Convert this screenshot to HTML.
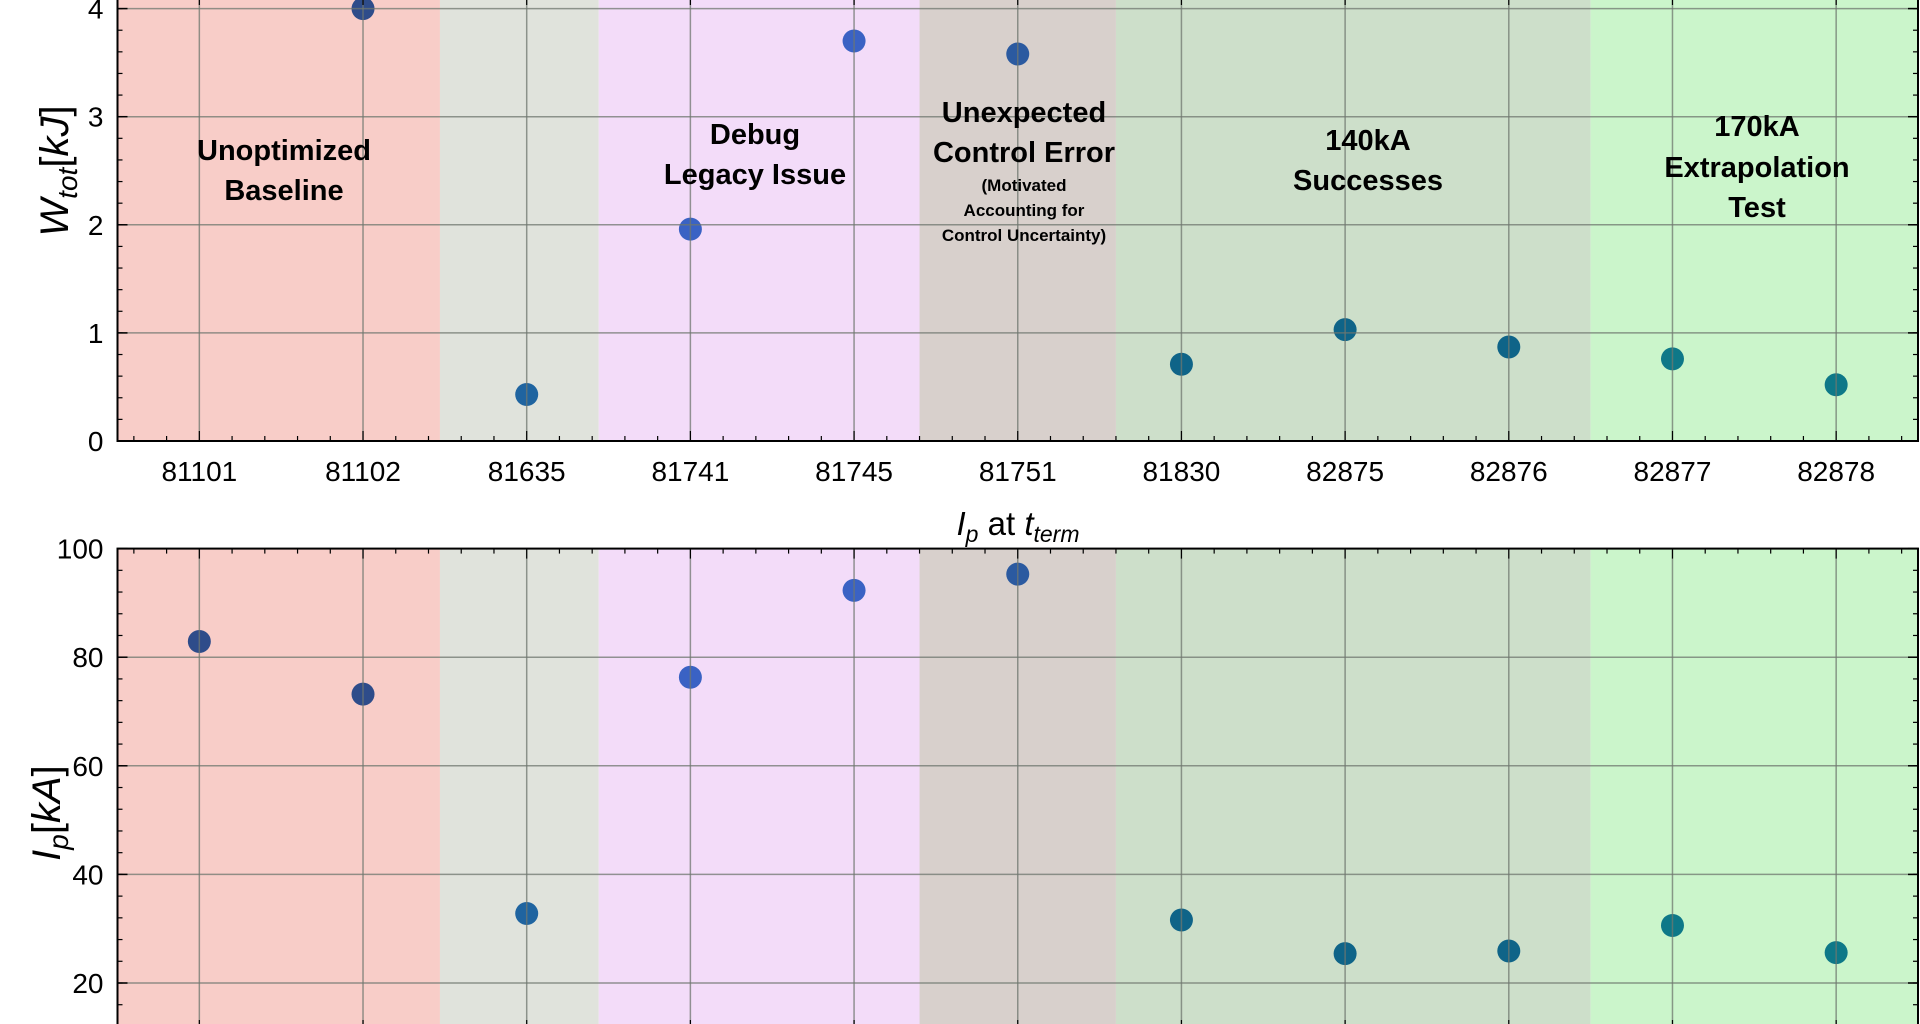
<!DOCTYPE html>
<html><head><meta charset="utf-8"><style>
html,body{margin:0;padding:0;background:#fff;}
svg{display:block;font-family:"Liberation Sans",Arial,sans-serif;}
</style></head><body>
<svg id="chart" width="1920" height="1024" viewBox="0 0 1920 1024" xmlns="http://www.w3.org/2000/svg"></svg>
<script>
const categories = ["81101","81102","81635","81741","81745","81751","81830","82875","82876","82877","82878"];
const wtotValues = [null,4.0,0.43,1.96,3.70,3.58,0.71,1.03,0.87,0.76,0.52];
const ipValues = [82.9,73.2,32.8,76.3,92.3,95.3,31.6,25.4,25.9,30.6,25.6];
const pointColors = ["#2e4c8a","#2e4c8a","#1f64a0","#3a62c4","#3a62c4","#2b5aa0","#0f6488","#0f6488","#0f6488","#0e7888","#0e7888"];
const regionStarts = [-0.5,1.47,2.44,4.4,5.6,8.5];
const regionEnds = [1.47,2.44,4.4,5.6,8.5,10.5];
const regionColors = ["#f8cdc8","#e0e3dc","#f3dcf9","#d8d0cc","#cddfca","#cbf5cb"];
const topTicks = [0,1,2,3,4];
const botTicks = [20,40,60,80,100];

const NS="http://www.w3.org/2000/svg";
const svg=document.getElementById('chart');
function mk(tag,attrs,parent){const e=document.createElementNS(NS,tag);for(const k in attrs)e.setAttribute(k,attrs[k]);(parent||svg).appendChild(e);return e;}
const L=117.5,R=1918;
const xs=i=>L+(i+0.5)*(R-L)/11;
const yTop=v=>441-v*108.1;
const yBot=v=>548.6+(100-v)*5.43;

function panel(name,ys,yTopPx,yBotPx,ticks,minorStep,values){
  const g=mk('g',{});
  
  
  regionStarts.forEach((s,i)=>{
    const r=mk('rect',{x:xs(s),y:yTopPx,width:xs(regionEnds[i])-xs(s),height:yBotPx-yTopPx,fill:regionColors[i]},g);
    
    
  });
  values.forEach((v,i)=>{
    if(v===null)return;
    const c=mk('ellipse',{cx:xs(i),cy:ys(v),rx:11.5,ry:11.5,fill:pointColors[i]},g);
    
    
  });
  categories.forEach((c,i)=>{
    const l=mk('line',{x1:xs(i),x2:xs(i),y1:yTopPx,y2:yBotPx,stroke:'#6f776f','stroke-width':1.5,'stroke-opacity':0.75},g);
    
    
  });
  ticks.forEach(t=>{
    const y=ys(t); if(y<yTopPx-1||y>yBotPx+1)return;
    const l=mk('line',{x1:L,x2:R,y1:y,y2:y,stroke:'#6f776f','stroke-width':1.5,'stroke-opacity':0.75},g);
    
    
    const tx=mk('text',{x:L-14,y:y+10,'text-anchor':'end','font-size':28,fill:'#000'},g);
    tx.textContent=t;
    
    
    mk('line',{x1:L,x2:L+10,y1:y,y2:y,stroke:'#000','stroke-width':1.5},g);
    mk('line',{x1:R,x2:R-10,y1:y,y2:y,stroke:'#000','stroke-width':1.5},g);
  });
  for(let v=ticks[0]-minorStep*10;v<=ticks[ticks.length-1]+minorStep*2;v+=minorStep){
    const y=ys(v); if(y<yTopPx||y>yBotPx)continue;
    mk('line',{x1:L,x2:L+5,y1:y,y2:y,stroke:'#000','stroke-width':1.2},g);
    mk('line',{x1:R,x2:R-5,y1:y,y2:y,stroke:'#000','stroke-width':1.2},g);
  }
  const step=(R-L)/11/5;
  for(let x=xs(0)-step*2;x<=R;x+=step){
    if(x<L)continue;
    const major=Math.abs(((x-xs(0))/(step*5))-Math.round((x-xs(0))/(step*5)))<0.01;
    const len=major?10:5;
    mk('line',{x1:x,x2:x,y1:yBotPx,y2:yBotPx-len,stroke:'#000','stroke-width':1.2},g);
    mk('line',{x1:x,x2:x,y1:yTopPx,y2:yTopPx+len,stroke:'#000','stroke-width':1.2},g);
  }
  mk('rect',{x:L,y:yTopPx,width:R-L,height:yBotPx-yTopPx,fill:'none',stroke:'#000','stroke-width':2},g);
  return g;
}
panel('wtot-panel',yTop,-5,441,topTicks,0.2,wtotValues);
panel('ip-panel',yBot,548.6,1030,botTicks,4,ipValues);

categories.forEach((c,i)=>{
  const t=mk('text',{x:xs(i),y:481,'text-anchor':'middle','font-size':28,fill:'#000'});
  t.textContent=c;
  
  
});
</script>
<script>
const S=document.getElementById('chart');
function addText(html){S.insertAdjacentHTML('beforeend',html);}
addText('<text x="1018" y="535" text-anchor="middle" font-size="33"><tspan font-style="italic">I</tspan><tspan font-style="italic" font-size="23" dy="7">p</tspan><tspan dy="-7"> at </tspan><tspan font-style="italic">t</tspan><tspan font-style="italic" font-size="23" dy="7">term</tspan></text>');
addText('<text transform="translate(68,171) rotate(-90)" text-anchor="middle" font-size="40"><tspan font-style="italic">W</tspan><tspan font-style="italic" font-size="28" dy="9">tot</tspan><tspan dy="-9">[</tspan><tspan font-style="italic">kJ</tspan><tspan>]</tspan></text>');
addText('<text transform="translate(60,813) rotate(-90)" text-anchor="middle" font-size="40"><tspan font-style="italic">I</tspan><tspan font-style="italic" font-size="28" dy="8">p</tspan><tspan dy="-8">[</tspan><tspan font-style="italic">kA</tspan><tspan>]</tspan></text>');
const ann=[
 ['annotation-unoptimized-baseline',284,[[160,'Unoptimized',29],[200,'Baseline',29]]],
 ['annotation-debug-legacy',755,[[144,'Debug',29],[184,'Legacy Issue',29]]],
 ['annotation-control-error',1024,[[122,'Unexpected',29],[162,'Control Error',29],[191,'(Motivated',17],[216,'Accounting for',17],[241,'Control Uncertainty)',17]]],
 ['annotation-140ka',1368,[[150,'140kA',29],[190,'Successes',29]]],
 ['annotation-170ka',1757,[[136,'170kA',29],[177,'Extrapolation',29],[217,'Test',29]]]
];
ann.forEach(a=>{
  let s='<g>';
  a[2].forEach(l=>{s+='<text x="'+a[1]+'" y="'+l[0]+'" text-anchor="middle" font-weight="bold" font-size="'+l[2]+'">'+l[1]+'</text>';});
  S.insertAdjacentHTML('beforeend',s+'</g>');
});
</script>
</body></html>
